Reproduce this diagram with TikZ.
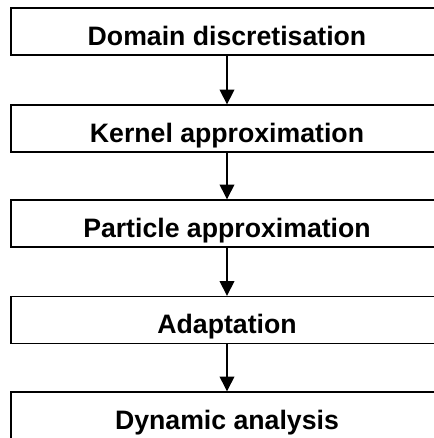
\documentclass[tikz,border=0pt]{standalone}
\usepackage{fontspec}
\setmainfont{Liberation Sans}
\usetikzlibrary{arrows.meta}

\tikzset{
  stage/.style={draw=black, line width=1pt, fill=white, minimum width=324pt, minimum height=35.25pt,
    inner sep=0pt, text height=21pt, text depth=0pt, font=\fontsize{20}{24}\selectfont\bfseries},
  flow/.style={line width=1pt, -{Triangle[width=11pt, length=11pt]}}
}

\begin{document}
\begin{tikzpicture}
\useasboundingbox (0,0) rectangle (325.5pt,328.5pt);

\node[stage] (Domain) at (170.25pt,304.9pt) {Domain discretisation};
\node[stage] (Kernel) at (170.25pt,232.1pt) {Kernel approximation};
\node[stage] (Particle) at (170.25pt,160.9pt) {Particle approximation};
\node[stage] (Adapt) at (170.25pt,88.5pt) {Adaptation};
\node[stage] (Dynamic) at (170.25pt,16.9pt) {Dynamic analysis};

\draw[flow] (Domain) -- (Kernel);
\draw[flow] (Kernel) -- (Particle);
\draw[flow] (Particle) -- (Adapt);
\draw[flow] (Adapt) -- (Dynamic);
\end{tikzpicture}
\end{document}
